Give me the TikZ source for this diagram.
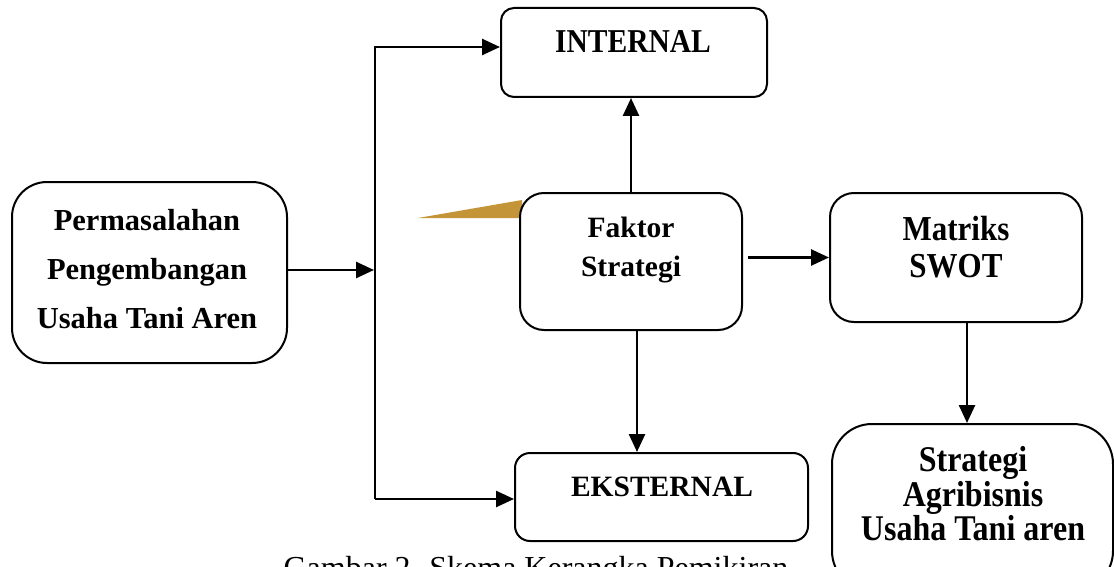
\documentclass[tikz,border=0pt]{standalone}
\usepackage{fontspec}
\setmainfont{Liberation Serif}
\usetikzlibrary{arrows.meta}
\definecolor{wedgegold}{RGB}{196,148,56}
\newcommand\boxfont[2]{\bfseries\fontsize{#1}{#2}\selectfont}

\begin{document}
\begin{tikzpicture}[x=1pt,y=-1pt,line width=2.6pt,
    >={Triangle[length=18pt,width=16pt]},
    box/.style={draw,line width=2pt,fill=white,inner sep=0pt},
    lbl/.style={align=center,inner sep=0pt},
    tall/.style={yscale=1.13,transform shape}]
  \useasboundingbox (0,0) rectangle (1114,567);
  \clip (0,0) rectangle (1114,567);
  \fill[wedgegold] (418,218) -- (522,200) -- (522,218) -- cycle;

  \node[box,rounded corners=35pt,minimum width=275pt,minimum height=181pt] (masalah) at (149.5,272.5) {};
  \node[box,rounded corners=13pt,minimum width=266pt,minimum height=89pt] (internal) at (634,52.5) {};
  \node[box,rounded corners=24pt,minimum width=222pt,minimum height=137pt] (faktor) at (631,261.5) {};
  \node[box,rounded corners=15pt,minimum width=293pt,minimum height=88pt] (eksternal) at (661.5,497) {};
  \node[box,rounded corners=24pt,minimum width=252pt,minimum height=129pt] (matriks) at (956,257.5) {};
  \node[box,rounded corners=40pt,minimum width=281pt,minimum height=167pt] (strategi) at (972.5,507.5) {};

  \node[lbl,font=\boxfont{30.5}{49}] (masalah-t) at (147,269) {Permasalahan\\Pengembangan\\Usaha Tani Aren};
  \node[lbl,tall,font=\boxfont{29.5}{30}] (internal-t) at (633,41) {INTERNAL};
  \node[lbl,font=\boxfont{29.5}{39}] (faktor-t) at (631,250) {Faktor\\Strategi};
  \node[lbl,font=\boxfont{29.5}{36}] (eksternal-t) at (662,487) {EKSTERNAL};
  \node[lbl,tall,font=\boxfont{31}{32.7}] (matriks-t) at (956,247) {Matriks\\SWOT};
  \node[lbl,tall,font=\boxfont{32}{30.5}] (strategi-t) at (973,494) {Strategi\\Agribisnis\\Usaha Tani aren};
  \node[anchor=base,font=\fontsize{32}{38}\selectfont] (caption) at (536,578) {Gambar 2. Skema Kerangka Pemikiran};

  \coordinate (jtop) at (375,47);
  \coordinate (jmid) at (374,270);
  \coordinate (jbot) at (375,499);

  \draw[->] (masalah.east |- jmid) -- (jmid);
  \draw[->] (jbot) -- (jtop) -- (jtop -| internal.west);
  \draw[->] (jbot) -- (jbot -| eksternal.west);
  \draw[->] (faktor.north) -- (faktor.north |- internal.south);
  \draw[->] ([xshift=6pt]faktor.south) -- ([xshift=6pt]faktor.south |- eksternal.north);
  \draw[->] ([xshift=5pt]faktor.east |- matriks.west) -- (matriks.west);
  \draw[->] ([xshift=11pt]matriks.south) -- ([xshift=11pt]matriks.south |- strategi.north);
\end{tikzpicture}
\end{document}
